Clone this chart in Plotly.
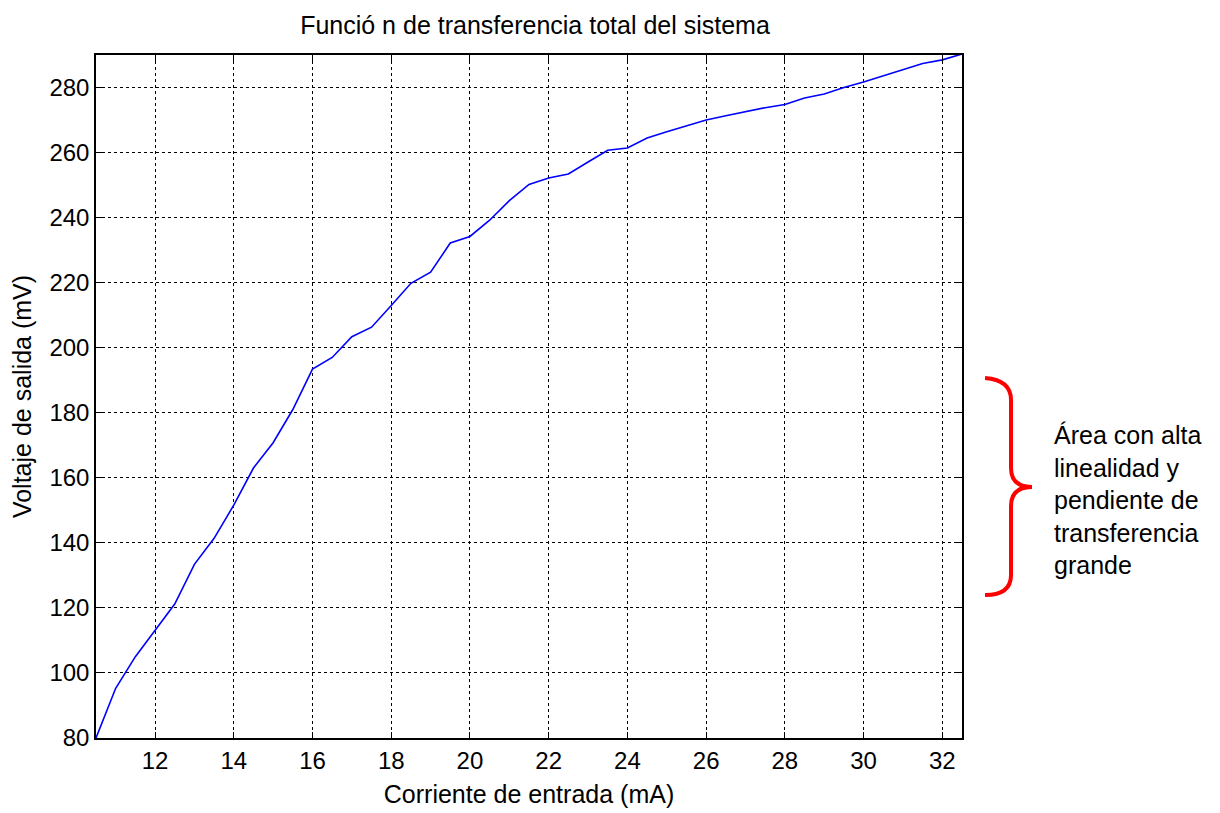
import plotly.graph_objects as go

corriente = [10.5, 11, 11.5, 12, 12.5, 13, 13.5, 14, 14.5, 15, 15.5, 16, 16.5, 17, 17.5,
             18, 18.5, 19, 19.5, 20, 20.5, 21, 21.5, 22, 22.5, 23, 23.5, 24, 24.5, 25,
             25.5, 26, 26.5, 27, 27.5, 28, 28.5, 29, 29.5, 30, 30.5, 31, 31.5, 32, 32.5]
voltaje = [80, 95.3, 105, 113, 121.2, 133.4, 141.4, 151.6, 163, 170.8, 181, 193.4, 197, 203.4, 206.3,
           213, 219.8, 223.2, 232.2, 234.2, 239.2, 245.2, 250.2, 252.2, 253.4, 257.1, 260.7, 261.4, 264.5, 266.4,
           268.3, 270, 271.3, 272.6, 273.8, 274.8, 276.8, 278, 280, 281.7, 283.6, 285.6, 287.4, 288.5, 290.3]

x_ticks = [12, 14, 16, 18, 20, 22, 24, 26, 28, 30, 32]
y_ticks = [80, 100, 120, 140, 160, 180, 200, 220, 240, 260, 280]

titulo = "Funció n de transferencia total del sistema"
x_label = "Corriente de entrada (mA)"
y_label = "Voltaje de salida (mV)"
nota = "Área con alta<br>linealidad y<br>pendiente de<br>transferencia<br>grande"

FONT = "Liberation Sans, Arial"
OFF = 8  # default body margin of the html page
W, H = 1212, 805
L, R, T, B = 88, 258, 47, 75
pw, ph = W - L - R, H - T - B


def px(xs):
    """screen x pixel -> paper fraction"""
    return (xs - OFF - L) / pw


def py(ys):
    """screen y pixel -> paper fraction"""
    return (OFF + T + ph - ys) / ph


fig = go.Figure()
fig.add_trace(go.Scatter(x=corriente, y=voltaje, mode="lines",
                         line=dict(color="#0000FF", width=1.6), showlegend=False))

axis_common = dict(showline=True, linecolor="black", linewidth=1.5, mirror="allticks",
                   ticks="inside", ticklen=6, tickcolor="black", tickwidth=1,
                   showgrid=True, gridcolor="black", griddash="dot", gridwidth=1,
                   zeroline=False, automargin=False,
                   tickfont=dict(family=FONT, size=24, color="black"))

fig.update_xaxes(range=[10.5, 32.5], tickvals=x_ticks, **axis_common,
                 title=dict(text=x_label, font=dict(family=FONT, size=25, color="black"),
                            standoff=13))
fig.update_yaxes(range=[80, 290], tickvals=y_ticks, **axis_common,
                 title=dict(text=y_label, font=dict(family=FONT, size=25, color="black"),
                            standoff=14))

# brace
pts = dict(a=(985, 378), c1=(1011, 380), b=(1011, 400), c=(1011, 468), c2=(1011, 487),
           tip=(1032, 487), c3=(1011, 487), d=(1011, 506), e=(1011, 575), c4=(1011, 595), f=(985, 595))


def P(k):
    xx, yy = pts[k]
    return f"{px(xx):.4f},{py(yy):.4f}"


path = (f"M {P('a')} Q {P('c1')} {P('b')} L {P('c')} Q {P('c2')} {P('tip')} "
        f"Q {P('c3')} {P('d')} L {P('e')} Q {P('c4')} {P('f')}")
fig.add_shape(type="path", path=path, xref="paper", yref="paper",
              line=dict(color="#FF0000", width=4))

fig.add_annotation(text=nota, xref="paper", yref="paper", x=px(1052), y=py(500),
                   xanchor="left", yanchor="middle", align="left", showarrow=False,
                   font=dict(family=FONT, size=25, color="black"))

fig.update_layout(
    width=W, height=H,
    margin=dict(l=L, r=R, t=T, b=B),
    paper_bgcolor="white", plot_bgcolor="white",
    title=dict(text=titulo, xref="container", x=(535 - OFF) / W, xanchor="center",
               yref="container", y=1 - (25 - OFF) / H, yanchor="middle",
               font=dict(family=FONT, size=25, color="black")),
)

fig.write_html("out.html")
